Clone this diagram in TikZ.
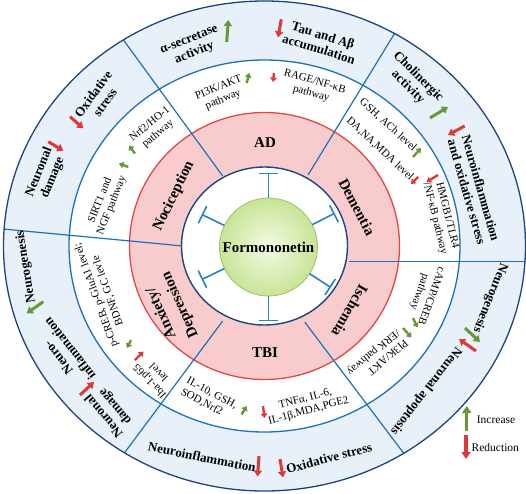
\documentclass[tikz,border=0pt]{standalone}
\usepackage{fontspec}
\setmainfont{Liberation Serif}
\usetikzlibrary{arrows.meta}
\definecolor{ringfill}{RGB}{232,240,250}
\definecolor{ringblue}{RGB}{30,112,184}
\definecolor{navy}{RGB}{28,68,128}
\definecolor{pinkfill}{RGB}{248,204,204}
\definecolor{ringred}{RGB}{228,70,70}
\definecolor{gin}{RGB}{244,250,228}
\definecolor{gout}{RGB}{200,228,150}
\definecolor{gedge}{RGB}{150,195,100}
\definecolor{tbarc}{RGB}{40,130,200}
\definecolor{arrg}{RGB}{102,153,51}
\definecolor{arrr}{RGB}{224,56,56}
\tikzset{
 outertxt/.style={font=\bfseries\fontsize{13}{14.5}\selectfont, align=center, inner sep=0pt},
 pinktxt/.style={font=\bfseries\fontsize{15}{16.5}\selectfont, align=center, inner sep=0pt},
 midtxt/.style={font=\fontsize{11}{12.5}\selectfont, align=center, inner sep=0pt},
 legtxt/.style={font=\fontsize{11.5}{13}\selectfont, inner sep=0pt, anchor=west},
 bigg/.style={draw=arrg, line width=3pt, -{Triangle[length=6pt,width=8pt]}},
 bigr/.style={draw=arrr, line width=3pt, -{Triangle[length=6pt,width=8pt]}},
 smg/.style={draw=arrg, line width=2.4pt, -{Triangle[length=4.5pt,width=6.5pt]}},
 smr/.style={draw=arrr, line width=2.4pt, -{Triangle[length=4.5pt,width=6.5pt]}},
 legg/.style={draw=arrg, line width=3.4pt, -{Triangle[length=7pt,width=9pt]}},
 legr/.style={draw=arrr, line width=3.4pt, -{Triangle[length=7pt,width=9pt]}},
 divider/.style={draw=ringblue, line width=1.2pt},
 tbar/.style={draw=tbarc, line width=1.6pt},
}
\begin{document}
\begin{tikzpicture}[x=1pt,y=-1pt]
\useasboundingbox (0,0) rectangle (526,493);
\coordinate (C) at (264.5,246);
% rings
\fill[ringfill] (C) ellipse [x radius=261, y radius=245];
\draw[ringblue, line width=1.3pt, fill=white] (C) ellipse [x radius=195.5, y radius=186];
\draw[ringred, line width=1.3pt, fill=pinkfill] (C) ellipse [x radius=135, y radius=133.5];
% dividers
\begin{scope}
\clip (C) ellipse [x radius=261, y radius=245];
\coordinate (a1) at (222.7,176); \coordinate (b1) at (118,32.5);
\coordinate (a2) at (308,175);   \coordinate (b2) at (397,29.5);
\coordinate (a3) at (349,261.7); \coordinate (b3) at (530,261.7);
\coordinate (a4) at (304.7,322); \coordinate (b4) at (405,455);
\coordinate (a5) at (222.7,321); \coordinate (b5) at (121,457.5);
\coordinate (a6) at (183,246);   \coordinate (b6) at (-2,228.5);
\foreach \i in {1,...,6} { \draw[divider] (a\i) -- (b\i); }
\end{scope}
\draw[navy, line width=1.4pt, fill=white] (C) ellipse [x radius=83, y radius=79];
\draw[navy, line width=1.3pt] (C) ellipse [x radius=261, y radius=245];
% centre
\node[circle, draw=gedge, line width=0.8pt, inner color=gin, outer color=gout, minimum size=98pt, inner sep=0pt, font=\bfseries\fontsize{15}{16}\selectfont] (F) at (268.5,247) {Formononetin};
\begin{scope}[shift={(268.5,247)}, yscale=-1]
\foreach \a in {90,27,-33,-90,206,154} {
  \draw[tbar] (\a:49) -- (\a:73.5);
  \draw[tbar] (\a:73.5) ++(\a+90:9.5) -- ++(\a-90:19);
}
\end{scope}
% pink ring labels
\node[pinktxt] (ad) at (265,143) {AD};
\node[pinktxt, rotate=-62] (dem) at (357,207) {Dementia};
\node[pinktxt, rotate=-120] (isch) at (350,311) {Ischemia};
\node[pinktxt] (tbi) at (265,353) {TBI};
\node[pinktxt, rotate=114] (anx) at (171,309) {Anxiety/\\[4pt]Depression};
\node[pinktxt, rotate=64] (noc) at (174,196) {Nociception};
% middle ring labels
\node[midtxt, rotate=22] (m1) at (221,94) {PI3K/AKT\\pathway};
\node[midtxt, rotate=-16] (m2) at (313,88) {RAGE/NF-κB\\pathway};
\node[midtxt, rotate=-42] (m3) at (388,125) {GSH, ACh level};
\node[midtxt, rotate=-43] (m4) at (380,149) {DA,NA,MDA level};
\node[midtxt, rotate=-76] (m5) at (441,217) {HMGB1/TLR4\\/NF-κB pathway};
\node[midtxt, rotate=-110] (m6) at (425,294) {cAMP/CREB\\pathway};
\node[midtxt, rotate=-140, align=left] (m7) at (377,357) {PI3K/AKT\\/ERK pathway};
\node[midtxt, rotate=15] (m8) at (307,405) {TNFα, IL-6,\\IL-1β,MDA,PGE2};
\node[midtxt, rotate=-28, align=left] (m9) at (209,399) {IL-10, GSH,\\SOD,Nrf2};
\node[midtxt, rotate=134] (m10) at (154,377) {Iba-1,p65\\level};
\node[midtxt, rotate=110] (m11) at (102,293) {p-CREB, p-GluA1 level;\\BDNF, GC levle};
\node[midtxt, rotate=68] (m12) at (106,203) {SIRT1 and\\NGF pathway};
\node[midtxt, rotate=40] (m13) at (154,129) {Nrf2/HO-1\\pathway};
% outer ring labels
\node[outertxt, rotate=22] (o1) at (192,47) {α-secretase\\activity};
\node[outertxt, rotate=-17] (o2) at (321,42) {Tau and Aβ\\accumulation};
\node[outertxt, rotate=-45] (o3) at (413,82) {Cholinergic\\activity};
\node[outertxt, rotate=-74] (o4) at (474,190) {Neuroinflammation\\and oxidative stress};
\node[outertxt, rotate=-112] (o5) at (490,298) {Neurogenesis};
\node[outertxt, rotate=-128] (o6) at (426,391) {Neuronal apoptosis};
\node[outertxt, rotate=15] (o7) at (329,458) {Oxidative stress};
\node[outertxt, rotate=-11.5] (o8) at (202,457) {Neuroinflammation};
\node[outertxt, rotate=130] (o9) at (110,411) {Neuronal\\damage};
\node[outertxt, rotate=128] (o10) at (64,353) {Neuro-\\inflammation};
\node[outertxt, rotate=99] (o11) at (26,267) {Neurogenesis};
\node[outertxt, rotate=68] (o12) at (46,175) {Neuronal\\damage};
\node[outertxt, rotate=54] (o13) at (99,98) {Oxidative\\stress};
% arrows: increase
\draw[bigg] (226.7,42) -- (228.3,20);
\draw[smg] (246.7,83) -- (249.3,73);
\draw[bigg] (430,118) -- (448,107);
\draw[smg] (413,157) -- (421,148);
\draw[smg] (413,318) -- (417.5,327.5);
\draw[smg] (403,328) -- (411.5,337.5);
\draw[bigg] (465,328) -- (480,342);
\draw[smg] (241.7,414.5) -- (246.7,406);
\draw[smg] (131,340) -- (127,348);
\draw[bigg] (43.3,301.7) -- (26.7,313.3);
\draw[smg] (128.3,167) -- (119,163.5);
\draw[smg] (135,153.5) -- (129,145.5);
% arrows: reduction
\draw[bigr] (281.3,19.3) -- (278,37.3);
\draw[smr] (274,73) -- (273,82);
\draw[smr] (418,177) -- (411,184);
\draw[smr] (438,175) -- (426.5,182);
\draw[bigr] (464.7,126) -- (448,135);
\draw[bigr] (476,351) -- (459,339);
\draw[smr] (263,406) -- (264.5,418);
\draw[bigr] (280,459) -- (283,477.5);
\draw[bigr] (259,456) -- (257.5,476.5);
\draw[smr] (135,360) -- (143.5,351.5);
\draw[bigr] (80,395) -- (94,382);
\draw[bigr] (48.3,141.7) -- (63.3,150.7);
\draw[bigr] (70,116.7) -- (83.3,128.3);
% legend
\draw[legg] (466.7,431) -- (466.7,406);
\draw[legr] (466,435) -- (466,459);
\node[legtxt] (inc) at (476.7,420) {Increase};
\node[legtxt] (red) at (471.5,448) {Reduction};
\end{tikzpicture}
\end{document}
